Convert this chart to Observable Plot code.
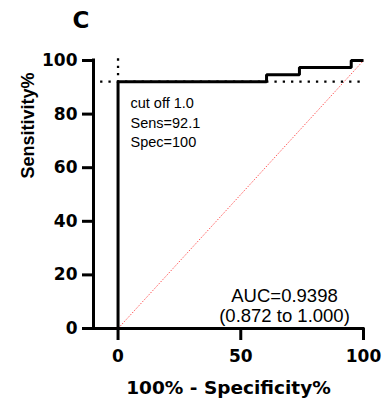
<!DOCTYPE html>
<html>
<head>
<meta charset="utf-8">
<script src="https://cdn.jsdelivr.net/npm/d3@7"></script>
<script src="https://cdn.jsdelivr.net/npm/@observablehq/plot@0.6"></script>
<style>
  html, body { margin: 0; padding: 0; background: #fff; }
  #chart svg { display: block; }
</style>
</head>
<body>
<div id="chart"></div>
<script>
// ROC curve (100% - specificity%, sensitivity%)
const rocFpr  = [0, 0, 60.5, 73.9, 95, 100];
const rocSens = [0, 92.1, 94.7, 97.4, 100, 100];
// reference diagonal
const diagFpr  = [0, 100];
const diagSens = [0, 100];
// cut-off point
const cutFpr = 0;
const cutSens = 92.1;
const cutGuideStart = -7.3;
// ticks
const xTicks = [0, 50, 100];
const yTicks = [0, 20, 40, 60, 80, 100];
// texts
const panelLabel = "C";
const xTitle = "100% - Specificity%";
const yTitle = "Sensitivity%";
const cutText = ["cut off 1.0", "Sens=92.1", "Spec=100"];
const aucText = ["AUC=0.9398", "(0.872 to 1.000)"];

const roc = rocFpr.map((x, i) => ({x, y: rocSens[i]}));
const diag = diagFpr.map((x, i) => ({x, y: diagSens[i]}));
const hGuide = [{x: cutGuideStart, y: cutSens}, {x: 100, y: cutSens}];
const vGuide = [{x: cutFpr, y: 100.8}, {x: cutFpr, y: cutSens}];

const bold = "DejaVu Sans";
const reg = "Liberation Sans, Arial, sans-serif";

const chart = Plot.plot({
  width: 386,
  height: 406,
  marginLeft: 93,
  marginRight: 23,
  marginTop: 60,
  marginBottom: 78,
  style: {background: "#fff", color: "#000", overflow: "visible"},
  x: {domain: [-10, 100], axis: null},
  y: {domain: [0, 100], axis: null},
  marks: [
    Plot.line(diag, {x: "x", y: "y", stroke: "#ff3030", strokeWidth: 1, strokeDasharray: "1.5 1.5", strokeLinecap: "butt", strokeOpacity: 0.8}),
    Plot.line(hGuide, {x: "x", y: "y", stroke: "#000", strokeWidth: 2.3, strokeDasharray: "2.3 6", strokeLinecap: "butt"}),
    Plot.line(vGuide, {x: "x", y: "y", stroke: "#000", strokeWidth: 2.3, strokeDasharray: "2.3 5", strokeLinecap: "butt"}),
    Plot.line(roc, {x: "x", y: "y", curve: "step-after", stroke: "#000", strokeWidth: 3, strokeLinecap: "butt", strokeLinejoin: "miter"}),
    Plot.ruleX([-10], {stroke: "#000", strokeWidth: 3, strokeLinecap: "square"}),
    Plot.ruleY([0], {stroke: "#000", strokeWidth: 3, strokeLinecap: "square"}),
    Plot.axisY(yTicks, {tickSize: 11, tickPadding: 5, strokeWidth: 3, fontSize: 17, fontFamily: bold, fontWeight: "bold", label: null}),
    Plot.axisX(xTicks, {tickSize: 12, tickPadding: 9, strokeWidth: 3, fontSize: 17, fontFamily: bold, fontWeight: "bold", label: null}),
    Plot.text([xTitle], {frameAnchor: "bottom", dy: 65, lineAnchor: "bottom", fontSize: 18.5, fontFamily: bold, fontWeight: "bold", fill: "#000"}),
    Plot.text([yTitle], {frameAnchor: "left", dx: -60, dy: -16, rotate: -90, lineAnchor: "bottom", fontSize: 18, fontFamily: "Liberation Sans", fontWeight: "bold", fill: "#000"}),
    Plot.text([panelLabel], {frameAnchor: "top-left", dx: -21, dy: -33, textAnchor: "start", lineAnchor: "bottom", fontSize: 23, fontFamily: bold, fontWeight: "bold", fill: "#000"}),
    Plot.text([cutText.join("\n")], {frameAnchor: "top-left", dx: 37, dy: 33.4, textAnchor: "start", lineAnchor: "top", lineHeight: 1.36, fontSize: 14.5, fontFamily: reg, fill: "#000"}),
    Plot.text([aucText.join("\n")], {frameAnchor: "bottom", dx: 56, dy: -7, textAnchor: "middle", lineAnchor: "bottom", lineHeight: 1.07, fontSize: 18.5, fontFamily: reg, fill: "#000"})
  ]
});
document.getElementById("chart").appendChild(chart);
</script>
</body>
</html>
